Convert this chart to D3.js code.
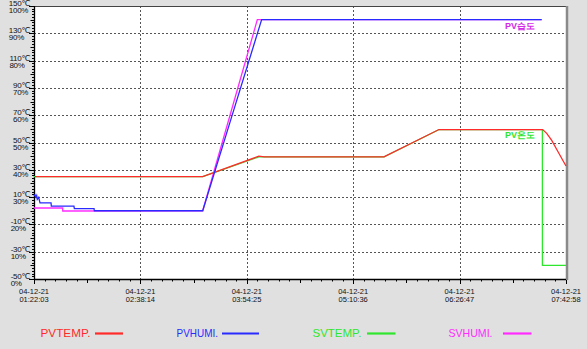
<!DOCTYPE html>
<html>
<head>
<meta charset="utf-8">
<script src="https://cdn.jsdelivr.net/npm/d3@7"></script>
<style>
html,body{margin:0;padding:0;background:#e0e0e0;}
svg{display:block;}
text{font-family:"Liberation Sans","DejaVu Sans",sans-serif;}
</style>
</head>
<body>
<svg id="c" width="587" height="349"></svg>
<script>
// ---- data ----
const startTime = "01:22:03";
const endTime = "07:42:58";
const xTickDates = ["04-12-21","04-12-21","04-12-21","04-12-21","04-12-21","04-12-21"];
const xTickTimes = ["01:22:03","02:38:14","03:54:25","05:10:36","06:26:47","07:42:58"];
const tempTicks = [150,130,110,90,70,50,30,10,-10,-30,-50];
const humiTicks = [100,90,80,70,60,50,40,30,20,10,0];

// [clock time, value]
const pvTemp = [
  ["01:22:45",25.0],["03:22:51",25.0],
  ["04:03:03",40.0],["04:07:03",39.5],["05:32:39",39.5],["06:12:03",59.5],
  ["07:26:15",59.5],["07:29:09",56.7],["07:32:45",51.5],["07:36:21",44.9],["07:42:58",32.8]
];
const svTemp = [
  ["01:22:03",25.0],["03:22:51",25.0],["04:03:03",39.5],["05:32:39",39.5],
  ["06:12:03",59.5],["07:26:03",59.5],["07:26:04",-40.0],["07:42:58",-40.0]
];
const pvHumi = [
  ["01:22:03",30.4],["01:22:46",30.8],["01:23:29",30.0],["01:23:59",30.6],
  ["01:24:25",29.2],["01:25:25",29.9],["01:26:21",27.9],["01:34:15",27.9],
  ["01:34:27",26.7],["01:50:39",26.7],["01:50:57",25.75],["02:05:03",25.75],
  ["02:05:15",25.0],["03:22:51",25.0],["03:43:27",59.2],["04:05:03",95.0],
  ["07:25:33",95.0]
];
const svHumi = [
  ["01:22:03",26.0],["01:42:33",26.0],["01:42:39",24.9],["03:22:51",25.0],
  ["04:01:57",95.0],["07:25:33",95.0]
];

// ---- layout ----
const L = 34, R = 566, T = 6, B = 279;
const parse = s => { const [h,m,sec] = s.split(":").map(Number); return new Date(2021,3,12,h,m,sec); };
const svg = d3.select("#c");
const x = d3.scaleTime().domain([parse(startTime), parse(endTime)]).range([L, R]);
const yT = d3.scaleLinear().domain([-50,150]).range([B, T]);
const yH = d3.scaleLinear().domain([0,100]).range([B, T]);

svg.append("rect").attr("width",587).attr("height",349).attr("fill","#e0e0e0");
svg.append("rect").attr("x",L).attr("y",T).attr("width",R-L).attr("height",B-T).attr("fill","#fff");

// grid
const xTicks = xTickTimes.map(parse);
svg.append("g").selectAll("line").data(tempTicks.slice(1,-1)).join("line")
  .attr("x1",L).attr("x2",R).attr("y1",d=>Math.round(yT(d))+0.5).attr("y2",d=>Math.round(yT(d))+0.5)
  .attr("stroke","#555").attr("stroke-dasharray","2,2");
svg.append("g").selectAll("line").data(xTicks.slice(1,-1)).join("line")
  .attr("y1",T).attr("y2",B).attr("x1",d=>Math.round(x(d))+0.5).attr("x2",d=>Math.round(x(d))+0.5)
  .attr("stroke","#555").attr("stroke-dasharray","2,2");

// y ticks (minor every 2°C)
const yMinor = d3.range(-50,151,2);
svg.append("g").selectAll("line").data(yMinor).join("line")
  .attr("x1",d=> d%10===0 ? L-3.5 : L-2)
  .attr("x2",L).attr("y1",d=>Math.round(yT(d))+0.5).attr("y2",d=>Math.round(yT(d))+0.5)
  .attr("stroke","#000");
svg.append("g").selectAll("line").data(tempTicks).join("line")
  .attr("x1",L-5).attr("x2",L).attr("y1",d=>Math.round(yT(d))+0.5).attr("y2",d=>Math.round(yT(d))+0.5)
  .attr("stroke","#000");

// x ticks
const t0 = parse(startTime).getTime(), t1 = parse(endTime).getTime();
const step = (t1-t0)/50;
const xMinor = d3.range(0,51).map(i=>new Date(t0+i*step));
svg.append("g").selectAll("line").data(xMinor).join("line")
  .attr("x1",d=>Math.round(x(d))+0.5).attr("x2",d=>Math.round(x(d))+0.5)
  .attr("y1",B).attr("y2",(d,i)=> i%10===0 ? B+5 : (i%5===0 ? B+4 : B+2.5))
  .attr("stroke","#000");

// axes lines
svg.append("line").attr("x1",L).attr("x2",R+1).attr("y1",T+0.5).attr("y2",T+0.5).attr("stroke","#444");
svg.append("line").attr("x1",R+1).attr("x2",R+1).attr("y1",T).attr("y2",B+1).attr("stroke","#8a8a8a").attr("stroke-width",2.5);
svg.append("line").attr("x1",L+0.5).attr("x2",L+0.5).attr("y1",T).attr("y2",B+1).attr("stroke","#000").attr("stroke-width",1.3);
svg.append("line").attr("x1",L).attr("x2",R).attr("y1",B+0.5).attr("y2",B+0.5).attr("stroke","#000").attr("stroke-width",1.3);

// y labels
const yl = svg.append("g").attr("font-size","8px").attr("fill","#111");
tempTicks.forEach((d,i)=>{
  const gy = Math.round(yT(d));
  const t = yl.append("text").attr("x",30).attr("y",gy-0.5).attr("text-anchor","end")
    .attr("letter-spacing","-0.3").text(d+"℃");
  const bb = t.node().getBBox();
  yl.append("text").attr("x",bb.x).attr("y",gy+7).attr("letter-spacing","-0.3").text(humiTicks[i]+"%");
});

// x labels
const xl = svg.append("g").attr("font-size","7.5px").attr("fill","#111").attr("text-anchor","middle");
xTicks.forEach((d,i)=>{
  xl.append("text").attr("x",x(d)).attr("y",293.5).text(xTickDates[i]);
  xl.append("text").attr("x",x(d)).attr("y",302.3).text(xTickTimes[i]);
});

// series
const lineT = d3.line().x(d=>x(parse(d[0]))).y(d=>yT(d[1]));
const lineH = d3.line().x(d=>x(parse(d[0]))).y(d=>yH(d[1]));
const colors = {pvT:"#ff2a2a", pvH:"#2a2aff", svT:"#2ee62e", svH:"#ff2aff"};
const g = svg.append("g").attr("fill","none");
g.append("path").attr("d",lineT(svTemp)).attr("stroke",colors.svT).attr("stroke-width",1.3);
g.append("path").attr("d",lineH(svHumi)).attr("stroke",colors.svH).attr("stroke-width",1.3);
g.append("path").attr("d",lineT(pvTemp)).attr("stroke",colors.pvT).attr("stroke-width",1.3);
g.append("path").attr("d",lineH(pvHumi)).attr("stroke",colors.pvH).attr("stroke-width",1.3);

// annotations
svg.append("text").attr("x",505).attr("y",29).attr("font-size","9px").attr("font-weight","bold")
  .attr("font-family","'Noto Sans CJK KR',sans-serif").attr("fill","#d42ae8").text("PV습도");
svg.append("text").attr("x",505).attr("y",138).attr("font-size","9px").attr("font-weight","bold")
  .attr("font-family","'Noto Sans CJK KR',sans-serif").attr("fill","#2ee62e").text("PV온도");

// legend
const legend = [
  {label:"PVTEMP.", c:colors.pvT, tx:40.5, w:50, lx1:95, lx2:123},
  {label:"PVHUMI.", c:colors.pvH, tx:176.5, w:41.5, lx1:222, lx2:259},
  {label:"SVTEMP.", c:colors.svT, tx:312.5, w:49, lx1:367, lx2:395.5},
  {label:"SVHUMI.", c:colors.svH, tx:448.5, w:44, lx1:503, lx2:531.5}
];
const lg = svg.append("g");
legend.forEach(d=>{
  lg.append("text").attr("x",d.tx).attr("y",337).attr("font-size","11px").attr("fill",d.c)
    .attr("textLength",d.w).attr("lengthAdjust","spacingAndGlyphs").text(d.label);
  lg.append("line").attr("x1",d.lx1).attr("x2",d.lx2).attr("y1",333.5).attr("y2",333.5).attr("stroke",d.c).attr("stroke-width",2.2);
});
</script>
</body>
</html>
